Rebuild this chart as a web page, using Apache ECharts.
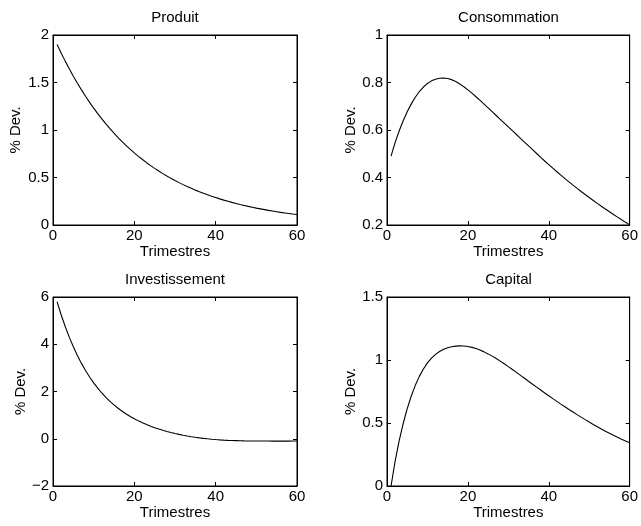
<!DOCTYPE html>
<html>
<head>
<meta charset="utf-8">
<script src="https://cdn.jsdelivr.net/npm/echarts@6/dist/echarts.min.js"></script>
<style>
  html, body { margin: 0; padding: 0; background: #fff; }
  #irf { width: 641px; height: 526px; }
</style>
</head>
<body>
<div id="irf"></div>
<script>
// quarters 1..60
const QUARTERS = Array.from({ length: 60 }, (_, i) => i + 1);

const PRODUIT = [
    1.90, 1.81, 1.725, 1.644, 1.566, 1.492, 1.422, 1.355, 1.291, 1.230,
    1.172, 1.117, 1.064, 1.014, 0.966, 0.920, 0.877, 0.836, 0.796, 0.759,
    0.723, 0.689, 0.656, 0.625, 0.596, 0.568, 0.541, 0.515, 0.491, 0.468,
    0.446, 0.425, 0.405, 0.386, 0.367, 0.350, 0.334, 0.318, 0.303, 0.289,
    0.275, 0.262, 0.250, 0.238, 0.227, 0.216, 0.206, 0.196, 0.187, 0.178,
    0.170, 0.162, 0.154, 0.147, 0.140, 0.133, 0.127, 0.121, 0.115, 0.110
];

const CONSOMMATION = [
    0.490, 0.547, 0.596, 0.639, 0.677, 0.710, 0.738, 0.762, 0.781, 0.796,
    0.807, 0.814, 0.818, 0.819, 0.817, 0.812, 0.804, 0.794, 0.782, 0.769,
    0.755, 0.740, 0.725, 0.709, 0.693, 0.677, 0.661, 0.645, 0.629, 0.613,
    0.597, 0.581, 0.565, 0.549, 0.533, 0.517, 0.501, 0.485, 0.4695, 0.4545,
    0.4392, 0.4243, 0.4097, 0.3954, 0.3814, 0.3677, 0.3543, 0.3412, 0.3283, 0.3156,
    0.3032, 0.2910, 0.2790, 0.2672, 0.2556, 0.2442, 0.2330, 0.2220, 0.2112, 0.2006
];

const INVESTISSEMENT = [
    5.800, 5.250, 4.752, 4.301, 3.893, 3.524, 3.190, 2.888, 2.614, 2.366,
    2.141, 1.937, 1.752, 1.584, 1.431, 1.292, 1.165, 1.049, 0.943, 0.846,
    0.757, 0.675, 0.600, 0.531, 0.468, 0.410, 0.357, 0.308, 0.263, 0.222,
    0.184, 0.149, 0.117, 0.088, 0.062, 0.038, 0.017, -0.002, -0.019, -0.034,
    -0.047, -0.058, -0.067, -0.075, -0.081, -0.086, -0.090, -0.093, -0.095, -0.096,
    -0.097, -0.098, -0.098, -0.099, -0.099, -0.099, -0.099, -0.099, -0.098, -0.098
];

const CAPITAL = [
    0.000, 0.195, 0.358, 0.496, 0.614, 0.714, 0.799, 0.870, 0.929, 0.977,
    1.015, 1.045, 1.068, 1.085, 1.097, 1.105, 1.110, 1.112, 1.111, 1.107,
    1.1002, 1.0907, 1.0787, 1.0645, 1.0485, 1.0308, 1.0116, 0.9912, 0.9698, 0.9476,
    0.9248, 0.9016, 0.8782, 0.8547, 0.8312, 0.8078, 0.7845, 0.7614, 0.7385, 0.7159,
    0.6936, 0.6716, 0.6499, 0.6286, 0.6076, 0.5869, 0.5665, 0.5465, 0.5268, 0.5074,
    0.4884, 0.4700, 0.4522, 0.4350, 0.4184, 0.4024, 0.3869, 0.3719, 0.3574, 0.3434
];

const TITLES = ["Produit", "Consommation", "Investissement", "Capital"];
const X_TICKS = { min: 0, max: 60, interval: 20 };
const Y_TICKS = [
    { min: 0, max: 2, interval: 0.5 },
    { min: 0.2, max: 1, interval: 0.2 },
    { min: -2, max: 6, interval: 2 },
    { min: 0, max: 1.5, interval: 0.5 }
];

const FONT = "Liberation Sans, Arial, Helvetica, sans-serif";
const FS = 15;

// panel boxes (pixels)
const PANELS = [
    { left: 53, top: 35, width: 244, height: 190, nameGap: 30 },
    { left: 387, top: 35, width: 243, height: 190, nameGap: 28 },
    { left: 53, top: 297, width: 244, height: 189, nameGap: 25 },
    { left: 387, top: 297, width: 243, height: 189, nameGap: 27 }
];

const SERIES_DATA = [PRODUIT, CONSOMMATION, INVESTISSEMENT, CAPITAL];

const chart = echarts.init(document.getElementById("irf"), null, { renderer: "canvas" });

const txt = { color: "#000", fontFamily: FONT, fontSize: FS };
const fmtNum = (v) => String(+v.toFixed(2)).replace("-", "\u2212");

const grids = [], xAxes = [], yAxes = [], series = [], titles = [];

PANELS.forEach((p, i) => {
    grids.push({
        left: p.left, top: p.top, width: p.width, height: p.height,
        show: true, borderColor: "#000", borderWidth: 1, backgroundColor: "#fff"
    });
    titles.push({
        text: TITLES[i],
        left: p.left + p.width / 2,
        textAlign: "center",
        top: p.top - 25,
        padding: 0,
        textStyle: { ...txt, fontWeight: "normal" }
    });

    const tick = { show: true, inside: true, length: 4, lineStyle: { color: "#000", width: 1 } };

    // bottom x axis
    xAxes.push({
        gridIndex: i, type: "value", position: "bottom",
        min: X_TICKS.min, max: X_TICKS.max, interval: X_TICKS.interval,
        name: "Trimestres", nameLocation: "middle", nameGap: 17,
        nameTextStyle: txt,
        axisLine: { show: true, onZero: false, lineStyle: { color: "#000", width: 1 } },
        axisTick: tick,
        axisLabel: { ...txt, margin: 3, formatter: fmtNum },
        splitLine: { show: false }
    });
    // top x axis (ticks only)
    xAxes.push({
        gridIndex: i, type: "value", position: "top",
        min: X_TICKS.min, max: X_TICKS.max, interval: X_TICKS.interval,
        axisLine: { show: true, onZero: false, lineStyle: { color: "#000", width: 1 } },
        axisTick: tick,
        axisLabel: { show: false },
        splitLine: { show: false }
    });
    const yt = Y_TICKS[i];
    yAxes.push({
        gridIndex: i, type: "value", position: "left",
        min: yt.min, max: yt.max, interval: yt.interval,
        name: "% Dev.", nameLocation: "middle", nameGap: p.nameGap, nameRotate: 90,
        nameTextStyle: txt,
        axisLine: { show: true, onZero: false, lineStyle: { color: "#000", width: 1 } },
        axisTick: tick,
        axisLabel: { ...txt, margin: 4, formatter: fmtNum },
        splitLine: { show: false }
    });
    yAxes.push({
        gridIndex: i, type: "value", position: "right",
        min: yt.min, max: yt.max, interval: yt.interval,
        axisLine: { show: true, onZero: false, lineStyle: { color: "#000", width: 1 } },
        axisTick: tick,
        axisLabel: { show: false },
        splitLine: { show: false }
    });

    series.push({
        type: "line",
        xAxisIndex: i * 2,
        yAxisIndex: i * 2,
        data: QUARTERS.map((q, k) => [q, SERIES_DATA[i][k]]),
        showSymbol: false,
        smooth: false,
        lineStyle: { color: "#000", width: 1.1 },
        animation: false
    });
});

chart.setOption({
    backgroundColor: "#fff",
    animation: false,
    title: titles,
    grid: grids,
    xAxis: xAxes,
    yAxis: yAxes,
    series
});
</script>
</body>
</html>
